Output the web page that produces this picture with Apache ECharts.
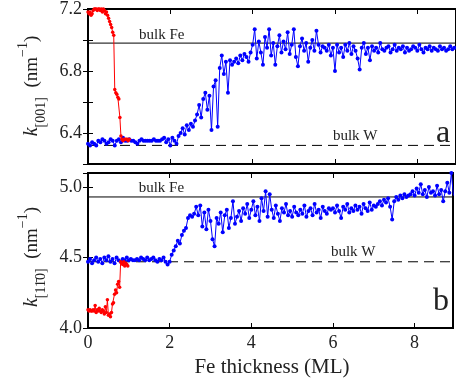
<!DOCTYPE html>
<html>
<head>
<meta charset="utf-8">
<script src="https://cdn.jsdelivr.net/npm/echarts@6/dist/echarts.min.js"></script>
<style>
  html, body { margin: 0; padding: 0; background: #fff; }
  #chart { width: 456px; height: 383px; }
</style>
</head>
<body>
<div id="chart"></div>
<script>
// Fe thickness grid (ML) for each measured run
const blueStep = 0.05;
const redStep = 0.025;
const xMax = 8.94;
const xTicks = [0, 2, 4, 6, 8];

// k along [001] (nm^-1)
const blueTop = [
  6.33, 6.32, 6.34, 6.33, 6.32, 6.35, 6.34, 6.36, 6.35, 6.33,
  6.34, 6.36, 6.35, 6.32, 6.35, 6.36, 6.34, 6.37, 6.35, 6.35,
  6.36, 6.35, 6.35, 6.34, 6.33, 6.35, 6.36, 6.35, 6.35, 6.35,
  6.35, 6.35, 6.36, 6.35, 6.35, 6.35, 6.36, 6.37, 6.34, 6.36,
  6.32, 6.37, 6.35, 6.33, 6.38, 6.40, 6.43, 6.39, 6.45, 6.42,
  6.46, 6.44, 6.48, 6.52, 6.58, 6.50, 6.62, 6.66, 6.55, 6.64,
  6.42, 6.70, 6.74, 6.44, 6.82, 6.90, 6.78, 6.86, 6.66, 6.87,
  6.84, 6.86, 6.88, 6.85, 6.90, 6.87, 6.91, 6.89, 6.86, 6.92,
  6.97, 7.07, 6.88, 6.99, 6.92, 6.84, 7.02, 6.95, 7.07, 6.90,
  6.98, 6.84, 6.96, 7.03, 6.92, 6.99, 6.94, 7.05, 6.91, 6.97,
  7.07, 6.89, 6.83, 6.96, 7.01, 6.93, 6.98, 6.86, 6.95, 7.00,
  6.93, 7.06, 6.97, 6.92, 6.96, 6.95, 6.93, 6.97, 6.90, 6.95,
  6.80, 6.97, 6.92, 6.95, 6.89, 6.97, 6.93, 6.98, 6.91, 6.96,
  6.93, 6.88, 6.81, 6.95, 6.98, 6.91, 6.95, 6.87, 6.96, 6.93,
  6.95, 6.92, 6.98, 6.94, 6.93, 6.95, 6.96, 6.92, 6.94, 6.97,
  6.93, 6.95, 6.94, 6.96, 6.92, 6.95, 6.93, 6.94, 6.96, 6.95,
  6.93, 6.97, 6.94, 6.92, 6.95, 6.94, 6.96, 6.93, 6.95, 6.94,
  6.93, 6.96, 6.94, 6.95, 6.93, 6.94, 6.96, 6.94, 6.95, 6.94
];
const redTop = [
  7.18, 7.17, 7.18, 7.16, 7.17, 7.19, 7.20, 7.20, 7.20, 7.19,
  7.20, 7.20, 7.19, 7.20, 7.18, 7.20, 7.19, 7.17, 7.18, 7.16,
  7.14, 7.12, 7.10, 7.08, 7.05, 7.03, 6.68, 6.66, 6.65, 6.63,
  6.62, 6.50, 6.38, 6.36, 6.35, 6.36, 6.36, 6.36, 6.36, 6.35,
  6.36
];

// k along [1-10] (nm^-1)
const blueBottom = [
  4.47, 4.49, 4.46, 4.48, 4.50, 4.47, 4.49, 4.46, 4.50, 4.48,
  4.51, 4.47, 4.49, 4.46, 4.50, 4.48, 4.47, 4.49, 4.48, 4.50,
  4.48, 4.49, 4.48, 4.48, 4.49, 4.48, 4.50, 4.49, 4.48, 4.50,
  4.48, 4.49, 4.50, 4.48, 4.47, 4.49, 4.48, 4.50, 4.47, 4.45,
  4.47, 4.52, 4.55, 4.58, 4.62, 4.60, 4.66, 4.69, 4.71, 4.78,
  4.80, 4.79, 4.81, 4.86, 4.80, 4.87, 4.72, 4.82, 4.70, 4.84,
  4.76, 4.63, 4.58, 4.78, 4.74, 4.82, 4.68, 4.80, 4.84, 4.71,
  4.78, 4.90, 4.74, 4.79, 4.83, 4.76, 4.85, 4.81, 4.88, 4.78,
  4.84, 4.90, 4.80, 4.86, 4.76, 4.92, 4.83, 4.97, 4.79, 4.95,
  4.84, 4.78, 4.87, 4.81, 4.76, 4.85, 4.82, 4.88, 4.80, 4.83,
  4.79, 4.86, 4.82, 4.80, 4.84, 4.81, 4.87, 4.79, 4.83, 4.85,
  4.80, 4.88, 4.82, 4.84, 4.78, 4.86, 4.83, 4.81, 4.85, 4.84,
  4.85, 4.82, 4.87, 4.83, 4.78, 4.86, 4.84, 4.88, 4.82, 4.85,
  4.83, 4.87, 4.84, 4.86, 4.81, 4.88, 4.85, 4.83, 4.89, 4.84,
  4.87, 4.86, 4.88, 4.90, 4.87, 4.91, 4.89, 4.92, 4.86, 4.77,
  4.90, 4.93, 4.91, 4.94, 4.92, 4.95, 4.93, 4.94, 4.95, 4.97,
  4.94, 4.99, 4.96, 5.02, 4.95, 4.98, 4.93, 5.00, 4.96, 4.97,
  4.94, 5.01, 4.95, 4.98, 4.90, 4.97, 5.03, 4.96, 5.10, 4.94
];
const redBottom = [
  4.13, 4.12, 4.13, 4.12, 4.12, 4.13, 4.12, 4.16, 4.11, 4.13,
  4.12, 4.14, 4.12, 4.11, 4.13, 4.12, 4.10, 4.15, 4.11, 4.20,
  4.09, 4.10, 4.08, 4.11, 4.17, 4.18, 4.24, 4.27, 4.25, 4.31,
  4.33, 4.29, 4.47, 4.46, 4.45, 4.47, 4.44, 4.46, 4.45, 4.44
];

// bulk reference values [top, bottom]
const bulkFe = [6.98, 4.93];
const bulkW = [6.32, 4.47];
const yMin = [6.2, 4.0];
const yMax = [7.2, 5.1];
const yStep = [0.2, 0.5];
const yLabelTicks = [[6.4, 6.8, 7.2], [4.0, 4.5, 5.0]];

const FONT = "Liberation Serif";
const INK = "#222";

const pairs = (ys, step) => ys.map((v, i) => [+(i * step).toFixed(3), v]);
const near = (v, list) => list.some((t) => Math.abs(v - t) < 1e-6);

const chart = echarts.init(document.getElementById("chart"), null, { renderer: "canvas" });

const grids = [
  { left: 88, top: 9, width: 370, height: 155 },
  { left: 88, top: 173, width: 370, height: 155 },
].map((g) => ({ ...g, show: true, borderColor: "#000", borderWidth: 2, backgroundColor: "transparent" }));

const tick = { show: true, inside: true, length: 5, lineStyle: { color: "#000", width: 1 } };

const xAxes = [];
const yAxes = [];
[0, 1].forEach((g) => {
  ["bottom", "top"].forEach((pos) => {
    xAxes.push({
      type: "value", gridIndex: g, position: pos, min: 0, max: xMax, interval: 2,
      axisLine: { show: false }, axisTick: tick, splitLine: { show: false },
      axisLabel: {
        show: g === 1 && pos === "bottom", margin: 6, color: INK, fontFamily: FONT, fontSize: 18,
        formatter: (v) => (near(v, xTicks) ? String(Math.round(v)) : ""),
      },
    });
  });
  ["left", "right"].forEach((pos) => {
    yAxes.push({
      type: "value", gridIndex: g, position: pos, min: yMin[g], max: yMax[g], interval: yStep[g],
      axisLine: { show: false }, axisTick: tick, splitLine: { show: false },
      axisLabel: {
        show: pos === "left", margin: 6, color: INK, fontFamily: FONT, fontSize: 18,
        formatter: (v) => (near(v, yLabelTicks[g]) ? v.toFixed(1) : ""),
      },
    });
  });
});

const series = [];
const runs = [
  { blue: blueTop, red: redTop },
  { blue: blueBottom, red: redBottom },
];
runs.forEach((r, g) => {
  const ax = { xAxisIndex: g * 2, yAxisIndex: g * 2 };
  series.push({
    type: "line", ...ax, z: 1, symbol: "none", silent: true,
    data: [[0, bulkFe[g]], [xMax, bulkFe[g]]],
    lineStyle: { color: "#000", width: 1 },
  });
  series.push({
    type: "line", ...ax, z: 1, symbol: "none", silent: true,
    data: [[0, bulkW[g]], [xMax, bulkW[g]]],
    lineStyle: { color: "#000", width: 1, type: [10, 6] },
  });
  series.push({
    type: "line", ...ax, z: 3, data: pairs(r.blue, blueStep),
    symbol: "circle", symbolSize: 4, showAllSymbol: true,
    lineStyle: { color: "#0000ff", width: 1 }, itemStyle: { color: "#0000ff" },
  });
  series.push({
    type: "line", ...ax, z: 4, data: pairs(r.red, redStep),
    symbol: "circle", symbolSize: 3.5, showAllSymbol: true,
    lineStyle: { color: "#ff0000", width: 1 }, itemStyle: { color: "#ff0000" },
  });
});

chart.setOption({
  animation: false,
  grid: grids,
  xAxis: xAxes,
  yAxis: yAxes,
  series,
});

// annotations placed from data coordinates
const graphic = [];
const px = (g, pt) => chart.convertToPixel({ xAxisIndex: g * 2, yAxisIndex: g * 2 }, pt);
const note = (text, p, size, align) => ({
  type: "text", x: p[0], y: p[1], z: 10,
  style: { text, fill: INK, fontFamily: FONT, fontSize: size, align: align || "left", verticalAlign: "bottom" },
});
[0, 1].forEach((g) => {
  const fe = px(g, [1.24, bulkFe[g]]);
  graphic.push(note("bulk Fe", [fe[0], fe[1] - 1], 15));
  const w = px(g, [5.95, bulkW[g]]);
  graphic.push(note("bulk W", [w[0], w[1] - 2], 15));
});
graphic.push(note("a", [443, 150], 32, "center"));
graphic.push(note("b", [441, 318], 32, "center"));
graphic.push({
  type: "text", x: 272, y: 367, z: 10,
  style: { text: "Fe thickness (ML)", fill: INK, fontFamily: FONT, fontSize: 21, align: "center", verticalAlign: "middle" },
});

const richTitle = {
  k: { fontFamily: FONT, fontSize: 20, fontStyle: "italic", fill: INK, verticalAlign: "middle" },
  sub: { fontFamily: FONT, fontSize: 14, fill: INK, verticalAlign: "bottom" },
  sup: { fontFamily: FONT, fontSize: 14, fill: INK, verticalAlign: "top" },
  n: { fontFamily: FONT, fontSize: 19, fill: INK, verticalAlign: "middle", lineHeight: 32 },
};
const yTitle = (text, cy) => ({
  type: "text", x: 32, y: cy, rotation: Math.PI / 2, z: 10,
  style: { text, rich: richTitle, align: "center", verticalAlign: "middle" },
});
graphic.push(yTitle("{k|k}{sub|[001]}{n|  (nm}{sup|\u22121}{n|)}", 86));
graphic.push(yTitle("{k|k}{sub|[11\u03040]}{n|  (nm}{sup|\u22121}{n|)}", 257));

chart.setOption({ graphic });
</script>
</body>
</html>
